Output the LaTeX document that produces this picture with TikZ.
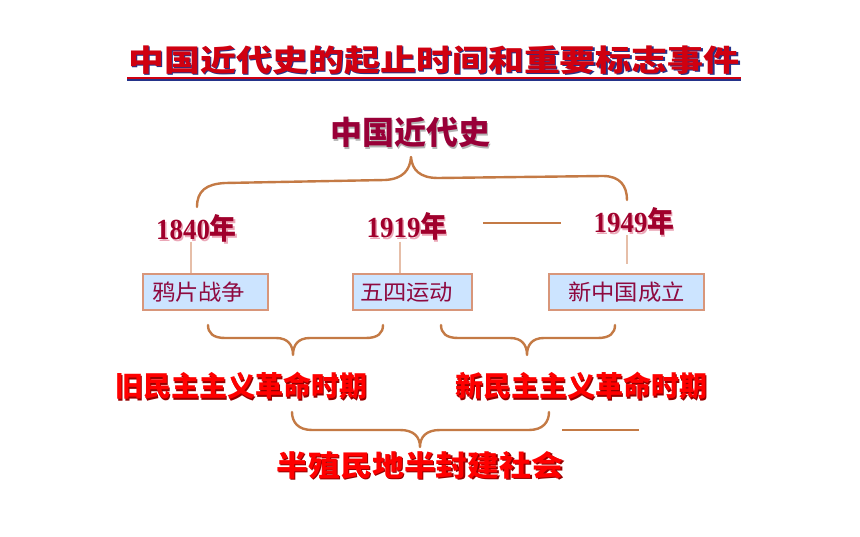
\documentclass[tikz,border=0pt]{standalone}
\usepackage{fontspec}
\usepackage{graphicx}
\newfontfamily\cjk{Noto Sans CJK SC}
\newfontfamily\yearfont{Liberation Serif}
\definecolor{titlered}{HTML}{D00010}
\definecolor{titleshadow}{HTML}{24338A}
\definecolor{headred}{HTML}{990038}
\definecolor{headshadow}{HTML}{B4B4B4}
\definecolor{yearred}{HTML}{A0002C}
\definecolor{yearshadow}{HTML}{EBA8B8}
\definecolor{boxtext}{HTML}{8E0A40}
\definecolor{labred}{HTML}{FF0000}
\definecolor{labshadow}{HTML}{960000}
\definecolor{bracec}{HTML}{C47A45}
\definecolor{thinc}{HTML}{E6BEA8}
\definecolor{boxborder}{HTML}{D8967A}
\definecolor{boxfill}{HTML}{CCE4FF}
\tikzset{
  txt/.style={inner sep=0pt, anchor=center},
  bracepath/.style={draw=bracec, line width=2.4pt, line cap=round, line join=round},
  thinline/.style={draw=thinc, line width=1.1pt},
  eventbox/.style={draw=boxborder, fill=boxfill, line width=1.2pt, minimum height=36pt, inner ysep=0pt, text=boxtext, font=\cjk\fontsize{22}{22}\selectfont},
}
% #1 shadow colour, #2 offset, #3 text
\newcommand{\shadowed}[3]{\rlap{\smash{\raisebox{-#2}{\hspace*{#2}\textcolor{#1}{#3}}}}#3}
\newcommand{\yr}[1]{{\yearfont\bfseries #1}{\cjk\bfseries 年}}
\begin{document}
\begin{tikzpicture}[x=1pt,y=-1pt]
\useasboundingbox[fill=white] (0,0) rectangle (860,537);
% title
\node[txt, text=titlered, font=\cjk\bfseries\fontsize{30}{30}\selectfont] (title) at (434,60) {\scalebox{1.2}[1]{\shadowed{titleshadow}{1.6pt}{中国近代史的起止时间和重要标志事件}}};
\coordinate (ul-a) at (127,78);
\coordinate (ul-b) at (741,78);
\draw[titleshadow, line width=1.6pt] ([yshift=-1.8pt]ul-a) -- ([yshift=-1.8pt]ul-b);
\draw[titlered, line width=1.8pt] (ul-a) -- (ul-b);
% heading
\node[txt, text=headred, font=\cjk\bfseries\fontsize{32}{32}\selectfont] (head) at (410,132.5) {\shadowed{headshadow}{1.5pt}{中国近代史}};
% top brace
\coordinate (tb-l) at (197,207);
\coordinate (tb-t) at (411,157);
\coordinate (tb-r) at (627,200);
\draw[bracepath] (tb-l) .. controls (197,191) and (206,184) .. (225,183) -- (385,180) .. controls (403,179) and (410,170) .. (tb-t)
  .. controls (412,170) and (420,178) .. (438,178) -- (603,176) .. controls (620,176) and (627,186) .. (tb-r);
% years
\foreach \n/\x/\y/\t in {y1/196.5/228.5/1840, y2/407/226.5/1919, y3/634/221.5/1949}{
  \node[txt, text=yearred, font=\fontsize{28}{28}\selectfont] (\n) at (\x,\y) {\scalebox{0.96}[1.04]{\shadowed{yearshadow}{1.6pt}{\yr{\t}}}};
}
\coordinate (gapline-a) at (483,223);
\coordinate (gapline-b) at (561,223);
\draw[bracec, line width=2.2pt] (gapline-a) -- (gapline-b);
% boxes
\node[eventbox, minimum width=125pt, text width=107pt, inner xsep=9pt, align=left] (b1) at (205.5,292) {\scalebox{1.06}[1]{鸦片战争}};
\node[eventbox, minimum width=119pt, text width=105pt, inner xsep=7pt, align=left] (b2) at (412.5,292) {\scalebox{1.06}[1]{五四运动}};
\node[eventbox, minimum width=155pt, text width=139pt, inner xsep=8pt, align=center] (b3) at (626.5,292) {\scalebox{1.06}[1]{新中国成立}};
\coordinate (v1a) at (191,242); \coordinate (v2a) at (400,242); \coordinate (v3a) at (627,235);
\draw[thinline] (v1a) -- (v1a |- b1.north);
\draw[thinline] (v2a) -- (v2a |- b2.north);
\draw[thinline] (v3a) -- ([yshift=9pt]v3a |- b3.north);
% lower braces
\coordinate (lb1-l) at (208,325); \coordinate (lb1-t) at (293,355); \coordinate (lb1-r) at (383,325);
\draw[bracepath] (lb1-l) .. controls (208,333) and (213,338) .. (225,338) -- (276,338) .. controls (288,338) and (293,345) .. (lb1-t)
  .. controls (293,345) and (298,338) .. (310,338) -- (366,338) .. controls (378,338) and (383,333) .. (lb1-r);
\coordinate (lb2-l) at (441,325); \coordinate (lb2-t) at (527,355); \coordinate (lb2-r) at (615,325);
\draw[bracepath] (lb2-l) .. controls (441,333) and (446,338) .. (458,338) -- (510,338) .. controls (522,338) and (527,345) .. (lb2-t)
  .. controls (527,345) and (532,338) .. (544,338) -- (598,338) .. controls (610,338) and (615,333) .. (lb2-r);
% period labels
\node[txt, text=labred, font=\cjk\bfseries\fontsize{28}{28}\selectfont] (old) at (241,386) {\shadowed{labshadow}{1.3pt}{旧民主主义革命时期}};
\node[txt, text=labred, font=\cjk\bfseries\fontsize{28}{28}\selectfont] (new) at (581,386) {\shadowed{labshadow}{1.3pt}{新民主主义革命时期}};
% bottom brace
\coordinate (bb-l) at (292,412); \coordinate (bb-t) at (420,447); \coordinate (bb-r) at (549,412);
\draw[bracepath] (bb-l) .. controls (292,422) and (298,430) .. (312,430) -- (400,430) .. controls (414,430) and (420,437) .. (bb-t)
  .. controls (420,437) and (426,430) .. (440,430) -- (529,430) .. controls (543,430) and (549,422) .. (bb-r);
\coordinate (gap2-a) at (562,430);
\coordinate (gap2-b) at (639,430);
\draw[bracec, line width=2.2pt] (gap2-a) -- (gap2-b);
% bottom label
\node[txt, text=labred, font=\cjk\bfseries\fontsize{29}{29}\selectfont] (soc) at (420,465) {\scalebox{1.1}[1]{\shadowed{labshadow}{1.4pt}{半殖民地半封建社会}}};
\end{tikzpicture}
\end{document}
